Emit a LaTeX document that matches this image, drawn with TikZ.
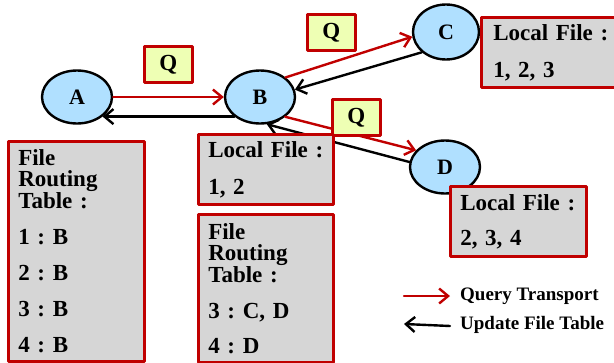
\documentclass[tikz,border=0pt]{standalone}
\usepackage{fontspec}
\setmainfont{Liberation Serif}
\frenchspacing
\usetikzlibrary{shapes.geometric,arrows.meta}
\definecolor{dred}{HTML}{C00000}
\definecolor{boxgray}{HTML}{D6D6D6}
\definecolor{qfill}{HTML}{EEFFB4}
\definecolor{peerblue}{HTML}{B0E0FF}
\tikzset{
  peer/.style={ellipse, draw=black, line width=2.4pt, fill=peerblue, minimum width=70pt, minimum height=53pt, inner sep=0pt, font=\fontsize{22}{22}\selectfont\bfseries},
  qbox/.style={draw=dred, line width=2.6pt, fill=qfill, minimum width=48pt, minimum height=36pt, inner sep=0pt, anchor=north west, font=\fontsize{23}{23}\selectfont\bfseries},
  filebox/.style={draw=dred, line width=2.6pt, fill=boxgray, anchor=north west, align=left, inner xsep=10pt, inner ysep=0pt, font=\fontsize{23}{21}\selectfont\bfseries},
  query/.style={draw=dred, line width=2.4pt, -{Straight Barb[length=9pt,width=15pt,line width=2.4pt]}},
  update/.style={draw=black, line width=2.4pt, -{Straight Barb[length=9pt,width=15pt,line width=2.4pt]}},
}
\begin{document}
\begin{tikzpicture}[x=1pt, y=-1pt, line join=round, line cap=round]
  \useasboundingbox (0,0) rectangle (614,362);
  % peers
  \node[peer] (A) at (77,97) {A};
  \node[peer] (B) at (260,97) {B};
  \node[peer, minimum width=66pt, minimum height=55pt] (C) at (446,32) {C};
  \node[peer] (D) at (445,167) {D};
  % query and update links
  \draw[query] (A.east) -- (B.west);
  \draw[update] (B.south west) -- (A.south east);
  \draw[query] (B.north east) -- (C.188);
  \draw[update] (C.south west) -- (B.12);
  \draw[query] (B.-38) -- (D.150);
  \draw[update] (D.172) -- (B.-76);
  % Q labels
  \node[qbox] (q1) at (143,45) {Q};
  \node[qbox] (q2) at (306,13) {Q};
  \node[qbox] (q3) at (331,98) {Q};
  % file tables
  \node[filebox, text width=116pt, minimum height=220pt] (tabA) at (7,140)
    {File\\Routing\\Table :\\[15pt]1 : B\\[15pt]2 : B\\[15pt]3 : B\\[15pt]4 : B};
  \node[filebox, text width=115pt, minimum height=70pt] (locB) at (197,133)
    {Local File :\\[16pt]1, 2};
  \node[filebox, text width=115pt, minimum height=148pt] (tabB) at (197,213)
    {File\\Routing\\Table :\\[15pt]3 : C, D\\[14pt]4 : D};
  \node[filebox, inner xsep=12pt, text width=116pt, minimum height=70pt] (locC) at (480,16)
    {Local File :\\[16pt]1, 2, 3};
  \node[filebox, text width=116pt, minimum height=70pt] (locD) at (449,185)
    {Local File :\\[14pt]2, 3, 4};
  % legend
  \node[anchor=west, inner sep=0pt, font=\fontsize{19}{19}\selectfont\bfseries] (qlabel) at (460,296) {Query Transport};
  \node[anchor=west, inner sep=0pt, font=\fontsize{19}{19}\selectfont\bfseries] (ulabel) at (460,325) {Update File Table};
  \coordinate (qstart) at (404,296);
  \coordinate (uend) at (404,324);
  \draw[query] (qstart) -- ([xshift=-10pt]qlabel.west);
  \draw[update] ([xshift=-10pt,yshift=-1pt]ulabel.west) -- (uend);
\end{tikzpicture}
\end{document}
